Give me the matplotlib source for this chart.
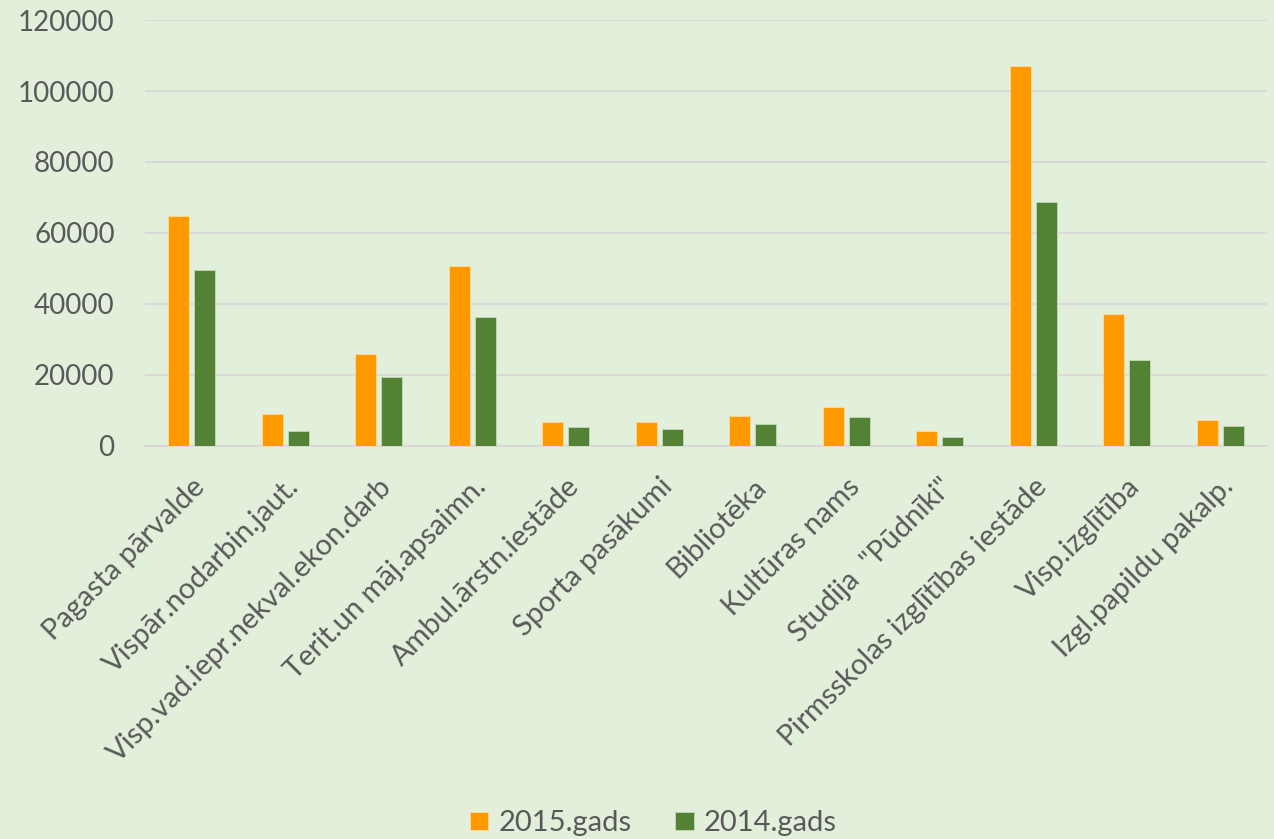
import matplotlib
matplotlib.use("Agg")
import matplotlib.pyplot as plt
import numpy as np

categories = ["Pagasta pārvalde", "Vispār.nodarbin.jaut.", "Visp.vad.iepr.nekval.ekon.darb",
              "Terit.un māj.apsaimn.", "Ambul.ārstn.iestāde", "Sporta pasākumi",
              "Bibliotēka", "Kultūras nams", "Studija  \"Pūdnīki\"",
              "Pirmsskolas izglītības iestāde", "Visp.izglītība", "Izgl.papildu pakalp."]
values_2015 = [64700, 9000, 25800, 50650, 6800, 6600, 8500, 10800, 4150, 106950, 37000, 7250]
values_2014 = [49600, 4150, 19350, 36350, 5150, 4600, 6100, 8000, 2450, 68600, 24050, 5650]
series_labels = ["2015.gads", "2014.gads"]
yticks = [0, 20000, 40000, 60000, 80000, 100000, 120000]

bg = "#E2EFDA"
txt = "#595959"
plt.rcParams['font.family'] = ['Lato', 'DejaVu Sans']

fig = plt.figure(figsize=(12.74, 8.39), dpi=100, facecolor=bg)
ax = fig.add_axes([0.114, 0.4688, 0.8805, 0.5072], facecolor=bg)

x = np.arange(len(categories))
w = 0.225
off = 0.139
ax.bar(x - off, values_2015, w, color="#FF9900", edgecolor="#FFD9A0", linewidth=0.6, label=series_labels[0], zorder=3)
ax.bar(x + off, values_2014, w, color="#548235", edgecolor="#C5D9B8", linewidth=0.6, label=series_labels[1], zorder=3)

ax.set_xlim(-0.5, len(categories) - 0.5)
ax.set_ylim(0, 120000)
ax.set_yticks(yticks)
ax.set_yticklabels([str(v) for v in yticks], fontsize=20, color=txt)
ax.yaxis.grid(True, color="#D9D9D9", linewidth=1.5, zorder=0)
for s in ["left", "right", "top"]:
    ax.spines[s].set_visible(False)
ax.spines["bottom"].set_color("#D9D9D9")
ax.spines["bottom"].set_linewidth(1.5)
ax.tick_params(axis="y", length=0, pad=22)
ax.tick_params(axis="x", length=0, pad=20)
ax.set_xticks(x)
ax.set_xticklabels(categories, rotation=45, ha="right", rotation_mode="anchor",
                   fontsize=21, color=txt)

leg = fig.legend(loc="lower center", bbox_to_anchor=(0.513, -0.028), ncol=2, frameon=False,
                 fontsize=21, handlelength=0.62, handleheight=0.62, handletextpad=0.35,
                 columnspacing=1.5)
for t in leg.get_texts():
    t.set_color(txt)

fig.savefig("out.png", dpi=100, facecolor=bg)
